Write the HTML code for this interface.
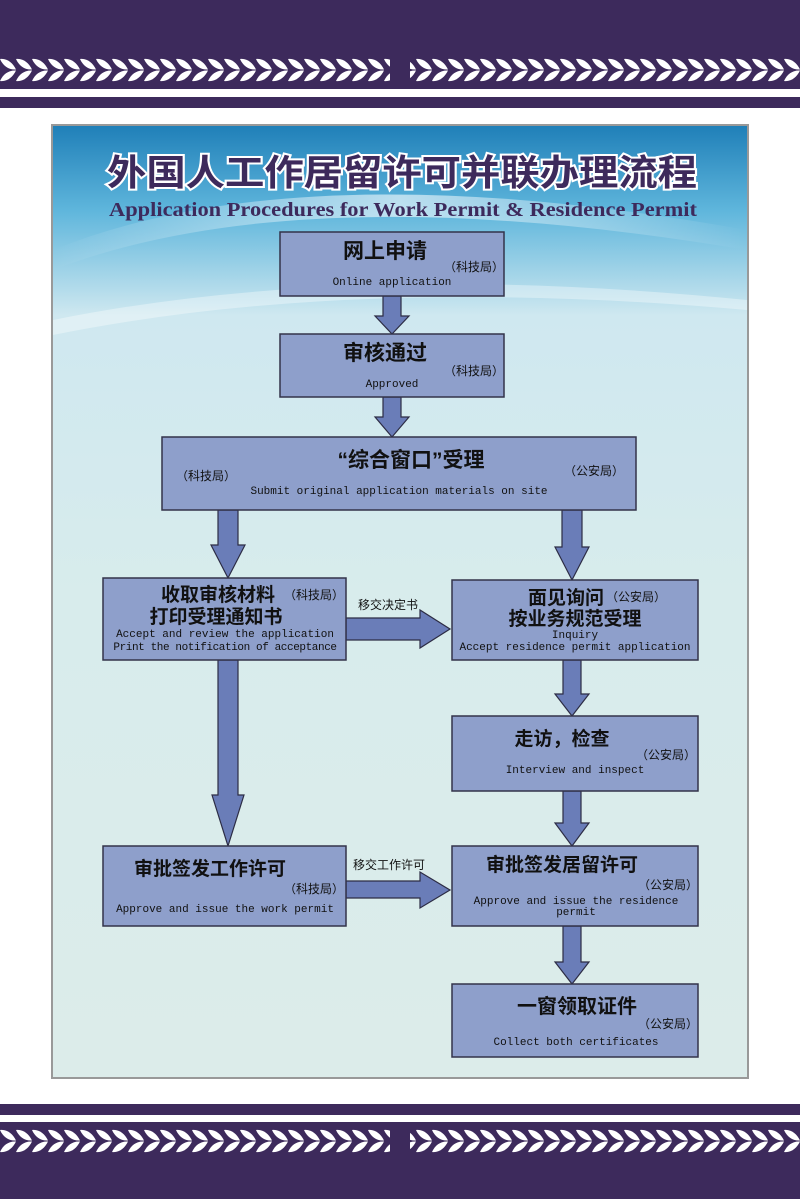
<!DOCTYPE html>
<html><head><meta charset="utf-8"><style>
html,body{margin:0;padding:0;background:#fff}
svg{display:block}
.zh{font-family:"Liberation Sans","Noto Sans CJK SC",sans-serif;font-weight:bold;fill:#111}
.sm{font-family:"Liberation Sans","Noto Sans CJK SC",sans-serif;fill:#111;font-size:12px}
.en{font-family:"Liberation Mono",monospace;fill:#111;font-size:11px}
</style></head><body>
<svg width="800" height="1199" viewBox="0 0 800 1199" xmlns="http://www.w3.org/2000/svg">
<defs>
<pattern id="wheat" x="0" y="58" width="16" height="24" patternUnits="userSpaceOnUse">
<path d="M0 1 C7 0 13 5 16 11.5 C9 12 3 8 0 1Z" fill="#fff"/>
<path d="M0 23 C7 24 13 19 16 12.5 C9 12 3 16 0 23Z" fill="#fff"/>
</pattern>
<pattern id="wheat2" x="0" y="1129" width="16" height="24" patternUnits="userSpaceOnUse">
<path d="M0 1 C7 0 13 5 16 11.5 C9 12 3 8 0 1Z" fill="#fff"/>
<path d="M0 23 C7 24 13 19 16 12.5 C9 12 3 16 0 23Z" fill="#fff"/>
</pattern>
<linearGradient id="bg" x1="0" y1="0" x2="0" y2="1">
<stop offset="0" stop-color="#1f7fb8"/>
<stop offset="0.09" stop-color="#5fb6dc"/>
<stop offset="0.2" stop-color="#cfe8f0"/>
<stop offset="0.5" stop-color="#d8ecec"/>
<stop offset="1" stop-color="#dcecea"/>
</linearGradient>
<linearGradient id="lt" x1="0" y1="0" x2="1" y2="0">
<stop offset="0" stop-color="#fff" stop-opacity="0"/>
<stop offset="0.5" stop-color="#fff" stop-opacity="0.6"/>
<stop offset="1" stop-color="#fff" stop-opacity="0"/>
</linearGradient>
</defs>
<rect x="0" y="0" width="800" height="89" fill="#3d2a5c"/>
<rect x="0" y="58" width="390" height="24" fill="url(#wheat)"/>
<rect x="410" y="58" width="390" height="24" fill="url(#wheat)"/>
<rect x="0" y="97" width="800" height="11" fill="#3d2a5c"/>
<rect x="0" y="1104" width="800" height="11" fill="#3d2a5c"/>
<rect x="0" y="1122" width="800" height="77" fill="#3d2a5c"/>
<rect x="0" y="1129" width="390" height="24" fill="url(#wheat2)"/>
<rect x="410" y="1129" width="390" height="24" fill="url(#wheat2)"/>
<rect x="52" y="125" width="696" height="953" fill="url(#bg)" stroke="#999" stroke-width="2"/>
<path d="M53 250 Q300 150 747 230 L747 250 Q300 175 53 270Z" fill="url(#lt)"/>
<path d="M53 320 Q350 260 747 300 L747 310 Q350 275 53 335Z" fill="#fff" opacity="0.35"/>
<text x="402" y="185" text-anchor="middle" font-family="Liberation Sans,'Noto Sans CJK SC',sans-serif" font-weight="bold" font-size="36" fill="#3d2a5c" stroke="#fff" stroke-width="4" paint-order="stroke" textLength="590" lengthAdjust="spacingAndGlyphs">外国人工作居留许可并联办理流程</text>
<text x="403" y="216" text-anchor="middle" font-family="Liberation Serif,serif" font-weight="bold" font-size="20" fill="#3d2a5c" textLength="588" lengthAdjust="spacingAndGlyphs">Application Procedures for Work Permit &amp; Residence Permit</text>
<g fill="#6a7db8" stroke="#2c2c44" stroke-width="1.2">
<polygon points="383,296 401,296 401,316 409,316 392,334 375,316 383,316"/>
<polygon points="383,397 401,397 401,417 409,417 392,437 375,417 383,417"/>
<polygon points="218,510 238,510 238,545 245,545 228,578 211,545 218,545"/>
<polygon points="562,510 582,510 582,547 589,547 572,580 555,547 562,547"/>
<polygon points="218,660 238,660 238,795 244,795 228,846 212,795 218,795"/>
<polygon points="563,660 581,660 581,694 589,694 572,716 555,694 563,694"/>
<polygon points="563,791 581,791 581,823 589,823 572,846 555,823 563,823"/>
<polygon points="563,926 581,926 581,962 589,962 572,984 555,962 563,962"/>
<polygon points="346,618 420,618 420,610 450,629 420,648 420,640 346,640"/>
<polygon points="346,881 420,881 420,872 450,890 420,908 420,898 346,898"/>
</g>
<g fill="#8e9fcb" stroke="#33334a" stroke-width="1.5">
<rect x="280" y="232" width="224" height="64"/>
<rect x="280" y="334" width="224" height="63"/>
<rect x="162" y="437" width="474" height="73"/>
<rect x="103" y="578" width="243" height="82"/>
<rect x="452" y="580" width="246" height="80"/>
<rect x="452" y="716" width="246" height="75"/>
<rect x="103" y="846" width="243" height="80"/>
<rect x="452" y="846" width="246" height="80"/>
<rect x="452" y="984" width="246" height="73"/>
</g>
<text class="zh" x="385" y="258" font-size="21" text-anchor="middle">网上申请</text>
<text class="sm" x="444" y="271">（科技局）</text>
<text class="en" x="392" y="285" text-anchor="middle">Online application</text>

<text class="zh" x="385" y="360" font-size="21" text-anchor="middle">审核通过</text>
<text class="sm" x="444" y="375">（科技局）</text>
<text class="en" x="392" y="387" text-anchor="middle">Approved</text>

<text class="zh" x="411" y="467" font-size="21" text-anchor="middle">“综合窗口”受理</text>
<text class="sm" x="176" y="480">（科技局）</text>
<text class="sm" x="564" y="475">（公安局）</text>
<text class="en" x="399" y="494" text-anchor="middle">Submit original application materials on site</text>

<text class="zh" x="218" y="601" font-size="19" text-anchor="middle">收取审核材料</text>
<text class="sm" x="284" y="599">（科技局）</text>
<text class="zh" x="216" y="623" font-size="19" text-anchor="middle">打印受理通知书</text>
<text class="en" x="225" y="637" text-anchor="middle">Accept and review the application</text>
<text class="en" x="225" y="650" text-anchor="middle" letter-spacing="-0.4">Print the notification of acceptance</text>
<text class="sm" x="358" y="609" font-size="10">移交决定书</text>

<text class="zh" x="566" y="604" font-size="19" text-anchor="middle">面见询问</text>
<text class="sm" x="606" y="601">（公安局）</text>
<text class="zh" x="575" y="625" font-size="19" text-anchor="middle">按业务规范受理</text>
<text class="en" x="575" y="638" text-anchor="middle">Inquiry</text>
<text class="en" x="575" y="650" text-anchor="middle">Accept residence permit application</text>

<text class="zh" x="562" y="745" font-size="19" text-anchor="middle">走访，检查</text>
<text class="sm" x="636" y="759">（公安局）</text>
<text class="en" x="575" y="773" text-anchor="middle">Interview and inspect</text>

<text class="zh" x="210" y="875" font-size="19" text-anchor="middle">审批签发工作许可</text>
<text class="sm" x="284" y="893">（科技局）</text>
<text class="en" x="225" y="912" text-anchor="middle">Approve and issue the work permit</text>
<text class="sm" x="353" y="869" font-size="10">移交工作许可</text>

<text class="zh" x="562" y="871" font-size="19" text-anchor="middle">审批签发居留许可</text>
<text class="sm" x="638" y="889">（公安局）</text>
<text class="en" x="576" y="904" text-anchor="middle">Approve and issue the residence</text>
<text class="en" x="576" y="915" text-anchor="middle">permit</text>

<text class="zh" x="577" y="1013" font-size="20" text-anchor="middle">一窗领取证件</text>
<text class="sm" x="638" y="1028">（公安局）</text>
<text class="en" x="576" y="1045" text-anchor="middle">Collect both certificates</text>
</svg>
</body></html>
